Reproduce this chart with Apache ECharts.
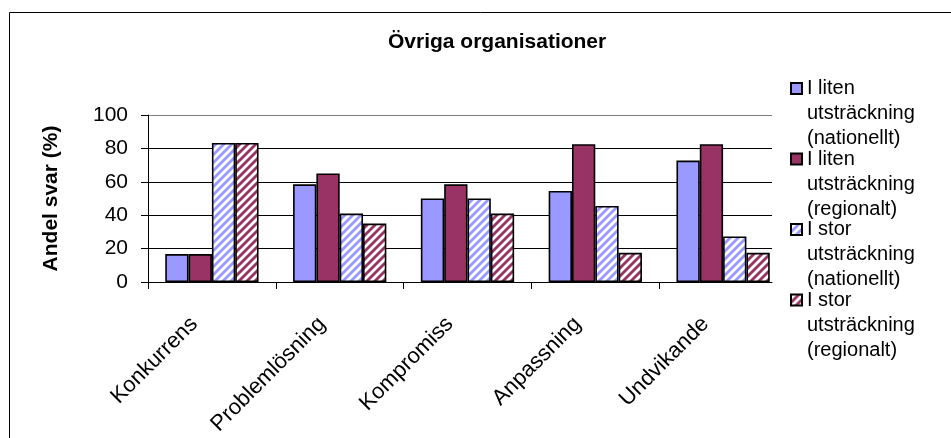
<!DOCTYPE html>
<html>
<head>
<meta charset="utf-8">
<script src="https://cdn.jsdelivr.net/npm/echarts@6/dist/echarts.min.js"></script>
<style>html,body{margin:0;padding:0;background:#fff}#chart{width:951px;height:438px}</style>
</head>
<body>
<div id="chart"></div>
<script>
const titleText = 'Övriga organisationer';
const yAxisTitle = 'Andel svar (%)';
const categories = ['Konkurrens', 'Problemlösning', 'Kompromiss', 'Anpassning', 'Undvikande'];
const seriesNames = [
  'I liten\nutsträckning\n(nationellt)',
  'I liten\nutsträckning\n(regionalt)',
  'I stor\nutsträckning\n(nationellt)',
  'I stor\nutsträckning\n(regionalt)'
];
const litenNationellt = [16.7, 58.5, 50, 54.5, 72.7];
const litenRegionalt = [16.7, 65, 58.5, 82.5, 82.5];
const storNationellt = [83.3, 41, 50, 45.5, 27.3];
const storRegionalt = [83.3, 35, 41, 17.5, 17.5];
const yTicks = [0, 20, 40, 60, 80, 100];

const FONT = '"Liberation Sans", Arial, sans-serif';
const BLUE = '#9999FF';
const MAROON = '#993366';

function hatch(color) {
  const c = document.createElement('canvas');
  c.width = 8; c.height = 8;
  const ctx = c.getContext('2d');
  ctx.fillStyle = '#fff';
  ctx.fillRect(0, 0, 8, 8);
  ctx.strokeStyle = color;
  ctx.lineWidth = 2.8;
  for (const o of [-8, 0, 8]) {
    ctx.beginPath();
    ctx.moveTo(o - 1, 9);
    ctx.lineTo(o + 9, -1);
    ctx.stroke();
  }
  return { image: c, repeat: 'repeat' };
}

const fills = [BLUE, MAROON, hatch(BLUE), hatch(MAROON)];
const dataSets = [litenNationellt, litenRegionalt, storNationellt, storRegionalt];

const chart = echarts.init(document.getElementById('chart'), null, { renderer: 'canvas' });

const option = {
  backgroundColor: '#fff',
  animation: false,
  textStyle: { fontFamily: FONT },
  title: {
    text: titleText,
    left: 383, top: 27,
    textStyle: { fontFamily: FONT, fontWeight: 'bold', fontSize: 21, color: '#000' }
  },
  graphic: [{
    type: 'rect', z: -1,
    shape: { x: 9.5, y: 12.5, width: 1200, height: 1000 },
    style: { fill: 'none', stroke: '#000', lineWidth: 1 }
  }],
  legend: {
    orient: 'vertical',
    left: 790, top: 76,
    padding: 0,
    itemGap: -4.5,
    itemWidth: 11, itemHeight: 61,
    icon: 'path://M0,0H11V11H0Z M0,61',
    data: seriesNames,
    textStyle: { fontFamily: FONT, fontSize: 20, color: '#000', lineHeight: 25 }
  },
  grid: [
    { left: 148, top: 115, width: 639, height: 167, containLabel: false, outerBoundsMode: 'none' },
    { left: 148, top: 115, width: 624, height: 167, containLabel: false, outerBoundsMode: 'none' }
  ],
  xAxis: [
    {
      type: 'category', gridIndex: 0, data: categories,
      axisLine: { show: false },
      axisTick: { show: false },
      axisLabel: {
        rotate: 45, margin: 21, interval: 0,
        fontFamily: FONT, fontSize: 22, color: '#000',
        padding: [0, 25, 0, 0]
      }
    },
    {
      type: 'value', gridIndex: 1, min: 0, max: 624 / 127.8,
      axisLine: { show: true, lineStyle: { color: '#000', width: 1 } },
      axisTick: { show: true, length: 7, lineStyle: { color: '#000' }, customValues: [0, 1, 2, 3, 4] },
      axisLabel: { show: false },
      splitLine: { show: false }
    }
  ],
  yAxis: [
    {
      type: 'value', gridIndex: 0, min: 0, max: 100, interval: 20,
      show: false, splitLine: { show: false }
    },
    {
      type: 'value', gridIndex: 1, min: 0, max: 100, interval: 20,
      name: yAxisTitle, nameLocation: 'middle', nameGap: 86,
      nameTextStyle: { fontFamily: FONT, fontWeight: 'bold', fontSize: 21, color: '#000' },
      axisLine: { show: true, lineStyle: { color: '#000', width: 1 } },
      axisTick: { show: true, length: 7, lineStyle: { color: '#000' } },
      axisLabel: {
        margin: 20, fontFamily: FONT, fontSize: 21, color: '#000',
        formatter: v => (yTicks.includes(v) ? String(v) : '')
      },
      splitLine: { show: true, lineStyle: { color: ['#000', '#000', '#000', '#000', '#000', '#808080'], width: 1 } }
    }
  ],
  series: seriesNames.map((name, i) => ({
    name,
    type: 'bar',
    xAxisIndex: 0, yAxisIndex: 0,
    data: dataSets[i],
    barGap: '0%',
    barCategoryGap: '27%',
    itemStyle: { color: fills[i], borderColor: '#000', borderWidth: 1.6 },
    emphasis: { disabled: true }
  }))
};

chart.setOption(option);
</script>
</body>
</html>
